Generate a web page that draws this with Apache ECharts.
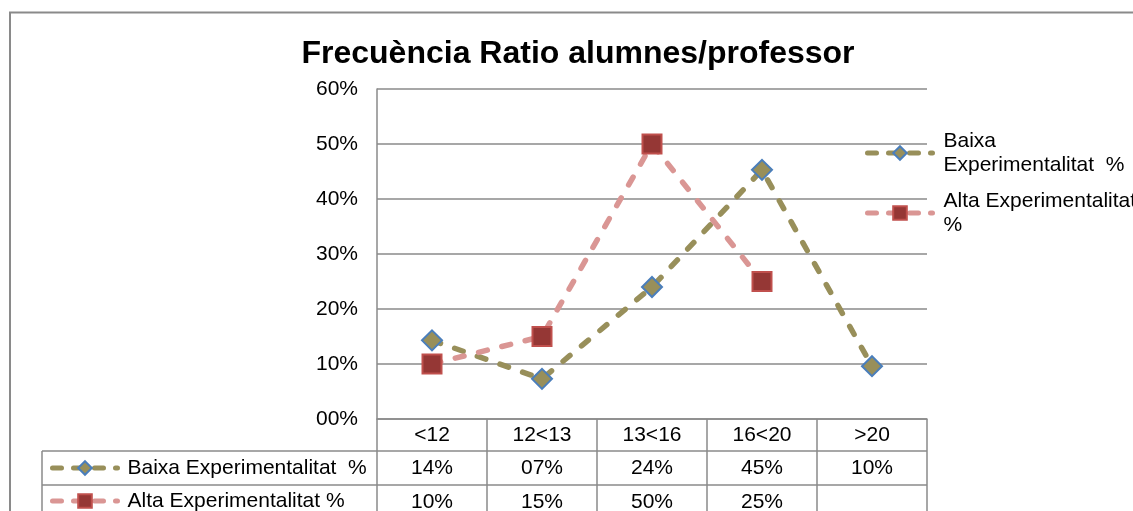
<!DOCTYPE html>
<html>
<head>
<meta charset="utf-8">
<script src="https://cdn.jsdelivr.net/npm/echarts@6/dist/echarts.min.js"></script>
<style>
html,body{margin:0;padding:0;background:#fff;}
#c{width:1133px;height:511px;}
</style>
</head>
<body>
<div id="c"></div>
<script>
const titleText = 'Frecuència Ratio alumnes/professor';
const categories = ['<12', '12<13', '13<16', '16<20', '>20'];
const seriesNames = ['Baixa Experimentalitat  %', 'Alta Experimentalitat %'];
const legendWrapped = ['Baixa\nExperimentalitat  %', 'Alta Experimentalitat\n%'];
const baixa = [0.143, 0.073, 0.24, 0.453, 0.096];
const alta = [0.10, 0.15, 0.50, 0.25, null];

const FONT = '"Liberation Sans", Arial, sans-serif';
const GRAY = '#8a8a8a';
const OLIVE = '#988F5A';
const PINK = '#DA9694';

function pct(v) {
  if (v === null || v === undefined) return '';
  return String(Math.round(v * 100)).padStart(2, '0') + '%';
}

const chart = echarts.init(document.getElementById('c'), null, {renderer: 'canvas'});

function legendCfg(idx, left, top, wrapped) {
  return {
    data: [seriesNames[idx]],
    left: left, top: top,
    orient: 'vertical',
    itemWidth: 65, itemHeight: 17,
    padding: 0,
    selectedMode: false,
    formatter: wrapped ? (() => legendWrapped[idx]) : undefined,
    lineStyle: {width: 5, type: [9, 12], cap: 'round'},
    textStyle: {
      fontSize: 21, lineHeight: 24, color: '#000', fontFamily: FONT,
      padding: wrapped ? [24, 0, 0, 6] : [0, 0, 0, 5]
    }
  };
}

const option = {
  animation: false,
  backgroundColor: '#fff',
  title: {
    text: titleText,
    left: 573, top: 33, textAlign: 'center',
    textStyle: {fontSize: 32, fontWeight: 'bold', color: '#000', fontFamily: FONT}
  },
  legend: [
    legendCfg(0, 865, 117, true),
    legendCfg(1, 865, 177, true),
    legendCfg(0, 50, 456, false),
    legendCfg(1, 50, 489, false)
  ],
  grid: {left: 377, right: 206, top: 89, bottom: 92, containLabel: false},
  xAxis: {
    type: 'category',
    data: categories,
    boundaryGap: true,
    axisLine: {show: true, lineStyle: {color: GRAY, width: 1.5}},
    axisTick: {show: true, length: 100, interval: 0, lineStyle: {color: GRAY, width: 1.5}},
    axisLabel: {fontSize: 21, color: '#000', margin: 6, fontFamily: FONT, interval: 0}
  },
  yAxis: {
    type: 'value',
    min: 0, max: 0.6, interval: 0.1,
    axisLine: {show: true, lineStyle: {color: GRAY, width: 1.5}},
    axisTick: {show: false},
    splitLine: {show: true, lineStyle: {color: GRAY, width: 1.5}},
    axisLabel: {fontSize: 21, color: '#000', margin: 19, fontFamily: FONT, formatter: pct}
  },
  series: [
    {
      name: seriesNames[0], type: 'line', data: baixa,
      symbol: 'diamond', symbolSize: 20,
      itemStyle: {color: OLIVE, borderColor: '#4A7EBB', borderWidth: 2},
      lineStyle: {color: OLIVE, width: 5.5, type: [9, 15], cap: 'round'},
      z: 2
    },
    {
      name: seriesNames[1], type: 'line', data: alta,
      symbol: 'rect', symbolSize: 19,
      itemStyle: {color: '#953735', borderColor: '#C0504D', borderWidth: 2},
      lineStyle: {color: PINK, width: 5.5, type: [9, 15], cap: 'round'},
      connectNulls: false,
      z: 3
    }
  ]
};

chart.setOption(option);

// Build the data table below the plot using the axis scale positions
const xs = categories.map(c => chart.convertToPixel({xAxisIndex: 0}, c));
const band = xs[1] - xs[0];
const rightEdge = xs[xs.length - 1] + band / 2;
const axisY = chart.convertToPixel({yAxisIndex: 0}, 0);
const tableLeft = 42;
const catRowH = 32;
const rowH = 34;
const row1Top = axisY + catRowH;
const row2Top = row1Top + rowH;
const row3Top = row2Top + rowH;

const g = [];
g.push({type: 'rect', shape: {x: 10, y: 12.5, width: 1300, height: 700}, style: {fill: null, stroke: GRAY, lineWidth: 2}, silent: true, z: 0});
[row1Top, row2Top, row3Top].forEach(y => {
  g.push({type: 'line', shape: {x1: tableLeft, y1: y, x2: rightEdge, y2: y}, style: {stroke: GRAY, lineWidth: 1.5}, silent: true});
});
g.push({type: 'line', shape: {x1: tableLeft, y1: row1Top, x2: tableLeft, y2: row3Top + 10}, style: {stroke: GRAY, lineWidth: 1.5}, silent: true});
[baixa, alta].forEach((arr, r) => {
  const cy = (r === 0 ? row1Top : row2Top) + rowH / 2;
  arr.forEach((v, i) => {
    g.push({type: 'text', x: xs[i], y: cy, style: {text: pct(v), fontSize: 21, fontFamily: FONT, fill: '#000', align: 'center', verticalAlign: 'middle'}, silent: true});
  });
});
chart.setOption({graphic: g});
</script>
</body>
</html>
